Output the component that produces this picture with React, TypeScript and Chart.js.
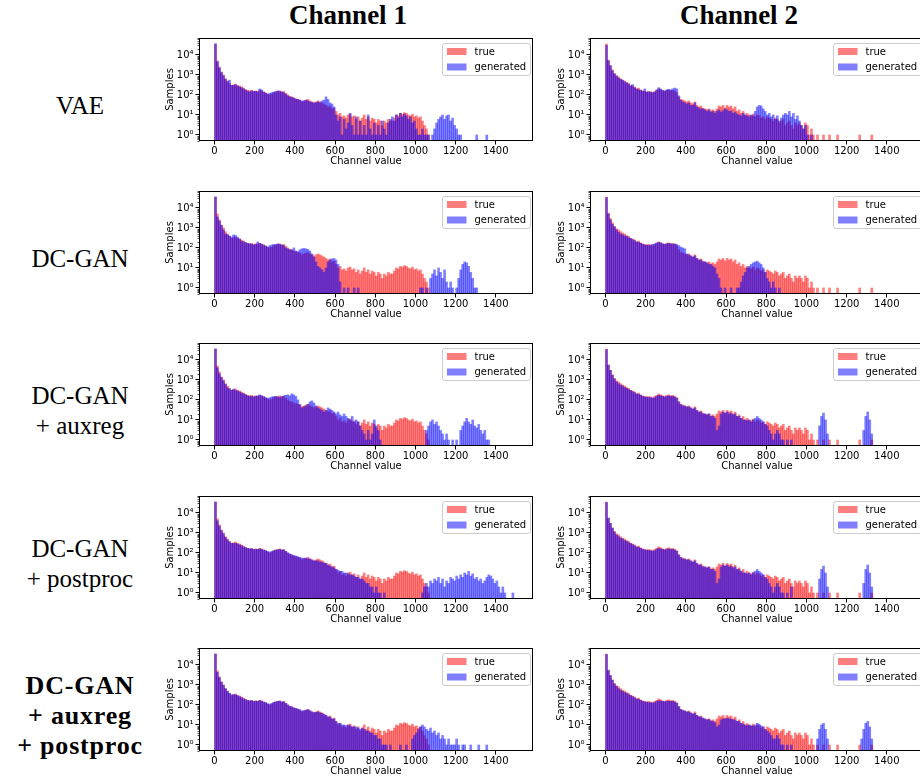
import React, { useEffect, useRef } from "react";
import { Chart, registerables } from "chart.js";

Chart.register(...registerables);

// ---------- data ----------
const BIN_WIDTH = 10;
const X_MIN = -77;
const X_MAX = 1585;
const Y_MIN = 0.5;
const Y_MAX = 70000;
const X_TICKS = [0, 200, 400, 600, 800, 1000, 1200, 1400];
const Y_TICKS = [1, 10, 100, 1000, 10000];
const Y_TICK_LABELS = ["10⁰", "10¹", "10²", "10³", "10⁴"];
const SERIES_LABELS = ["true", "generated"];
const SERIES_COLORS = ["rgba(255,0,0,0.5)", "rgba(0,0,255,0.5)"];
const COLUMN_TITLES = ["Channel 1", "Channel 2"];
const ROW_LABELS = [
  ["VAE"],
  ["DC-GAN"],
  ["DC-GAN", "+ auxreg"],
  ["DC-GAN", "+ postproc"],
  ["DC-GAN", "+ auxreg", "+ postproc"],
];
const X_TITLE = "Channel value";
const Y_TITLE = "Samples";

// counts per bin of width 10, starting at channel value 0
const TRUE_CH1 = [
  35000, 5000, 2500, 1400, 1000, 650, 500, 380, 300, 320,
  350, 300, 280, 250, 220, 190, 170, 160, 170, 150,
  160, 150, 170, 160, 140, 130, 110, 100, 110, 130,
  140, 150, 160, 140, 150, 120, 100, 85, 80, 70,
  65, 60, 55, 45, 50, 55, 60, 50, 45, 40,
  45, 50, 45, 40, 35, 30, 25, 28, 20, 22,
  15, 10, 12, 8, 9, 7, 10, 11, 8, 9,
  6, 8, 5, 7, 10, 6, 8, 5, 7, 6,
  4, 6, 5, 3, 5, 4, 6, 5, 5, 7,
  10, 9, 12, 11, 13, 12, 10, 9, 11, 8,
  9, 7, 8, 5, 3, 2, 1,
];

const TRUE_CH2 = [
  35000, 5500, 3000, 1800, 1200, 900, 800, 650, 550, 500,
  420, 380, 300, 280, 250, 200, 220, 180, 160, 150,
  140, 150, 140, 130, 150, 170, 200, 180, 160, 150,
  170, 180, 160, 170, 150, 130, 80, 60, 55, 50,
  45, 50, 40, 35, 45, 30, 25, 28, 22, 20,
  18, 20, 16, 18, 15, 20, 28, 25, 30, 22,
  30, 25, 28, 20, 25, 15, 18, 12, 15, 10,
  12, 10, 9, 11, 8, 10, 9, 7, 8, 6,
  8, 7, 6, 5, 7, 6, 4, 5, 6, 3,
  4, 5, 3, 2, 4, 3, 4, 3, 2, 4,
  3, 1, 2, 1, 0, 1, 0, 0, 1, 0,
  0, 1, 0, 0, 0, 1, 0, 0, 0, 0,
  0, 0, 0, 0, 0, 0, 1, 0, 0, 0,
  0, 0, 1,
];

const GEN_VAE_CH1 = [
  36000, 4500, 2200, 1300, 900, 600, 450, 550, 300, 300,
  320, 280, 250, 230, 200, 170, 150, 140, 160, 150,
  150, 140, 200, 180, 140, 120, 110, 120, 130, 140,
  150, 160, 150, 140, 130, 110, 90, 80, 75, 70,
  60, 60, 55, 50, 50, 55, 50, 45, 42, 40,
  40, 45, 40, 50, 55, 80, 60, 40, 35, 25,
  10, 5, 8, 1, 6, 2, 4, 12, 3, 1,
  8, 1, 5, 1, 3, 1, 10, 2, 1, 4,
  1, 3, 1, 5, 2, 1, 4, 6, 8, 5,
  10, 7, 12, 8, 11, 9, 6, 8, 4, 5,
  2, 1, 1, 2, 1, 1, 1, 0, 1, 2,
  4, 6, 8, 10, 6, 9, 10, 5, 7, 3,
  2, 1, 1, 0, 0, 0, 0, 0, 0, 0,
  1, 0, 0, 0, 0, 1,
];

const GEN_VAE_CH2 = [
  30000, 5000, 2800, 1600, 1100, 900, 700, 600, 550, 450,
  400, 350, 280, 330, 230, 200, 180, 170, 150, 200,
  140, 140, 140, 130, 140, 180, 230, 200, 170, 160,
  180, 190, 180, 200, 220, 200, 90, 55, 45, 40,
  35, 40, 30, 30, 40, 25, 22, 20, 20, 18,
  15, 18, 14, 15, 12, 15, 18, 14, 16, 20,
  18, 15, 16, 12, 14, 11, 10, 9, 12, 10,
  9, 8, 10, 9, 15, 25, 30, 28, 20, 15,
  10, 12, 8, 10, 6, 9, 5, 7, 10, 12,
  10, 15, 8, 12, 6, 9, 5, 3, 2, 3,
  1, 0, 1,
];

const GEN_DCGAN_CH1 = [
  35000, 3500, 2200, 1300, 800, 500, 450, 400, 350, 450,
  420, 350, 280, 220, 200, 180, 170, 160, 150, 140,
  150, 200, 170, 150, 140, 120, 110, 130, 140, 150,
  150, 160, 150, 140, 130, 100, 90, 80, 80, 100,
  70, 65, 80, 90, 95, 90, 85, 70, 50, 35,
  20, 12, 10, 8, 6, 10, 20, 25, 28, 30,
  25, 15, 2, 0, 1, 0, 1, 0, 0, 1,
  0, 1, 0, 0, 0, 0, 0, 0, 0, 0,
  0, 0, 0, 0, 0, 0, 0, 0, 0, 0,
  0, 0, 0, 0, 0, 0, 0, 0, 0, 0,
  0, 0, 1, 1, 0, 1, 0, 3, 5, 8,
  4, 10, 6, 3, 8, 2, 1, 2, 1, 0,
  1, 3, 8, 15, 20, 18, 12, 6, 3, 1,
  1,
];

const GEN_DCGAN_CH2 = [
  33000, 5000, 2500, 1500, 1100, 800, 600, 500, 450, 400,
  380, 330, 300, 260, 230, 200, 190, 170, 150, 140,
  140, 130, 140, 150, 160, 180, 190, 180, 160, 150,
  160, 170, 160, 150, 160, 150, 130, 110, 100, 90,
  50, 45, 40, 35, 40, 30, 25, 25, 20, 20,
  18, 15, 15, 12, 10, 5, 3, 1, 0, 1,
  0, 0, 1, 0, 0, 1, 1, 2, 4, 6,
  10, 12, 15, 18, 20, 22, 18, 15, 10, 6,
  3, 2, 1, 2, 1, 0, 1,
];

const GEN_AUX_CH1 = [
  35000, 4000, 2000, 1300, 900, 600, 400, 350, 300, 350,
  300, 280, 250, 220, 200, 180, 160, 150, 150, 140,
  150, 160, 180, 160, 150, 130, 120, 130, 140, 150,
  150, 140, 130, 150, 160, 170, 180, 160, 200, 180,
  150, 100, 60, 40, 45, 50, 60, 80, 90, 70,
  50, 40, 35, 30, 25, 30, 40, 35, 30, 25,
  20, 25, 18, 15, 20, 15, 12, 10, 15, 8,
  10, 8, 5, 3, 2, 1, 3, 1, 2, 10,
  5, 3, 1, 0, 0, 0, 0, 0, 0, 0,
  0, 0, 0, 0, 0, 0, 0, 0, 0, 0,
  0, 0, 0, 0, 0, 3, 5, 8, 10, 6,
  8, 5, 3, 2, 1, 2, 1, 0, 1, 0,
  1, 0, 3, 5, 8, 12, 8, 6, 10, 5,
  4, 6, 3, 2, 3, 1, 1,
];

const GEN_AUX_CH2 = [
  33000, 5500, 3000, 1700, 1100, 800, 650, 550, 500, 420,
  380, 330, 300, 260, 230, 200, 190, 170, 150, 140,
  140, 130, 130, 120, 130, 150, 170, 160, 150, 140,
  150, 160, 150, 150, 140, 120, 80, 60, 50, 50,
  45, 45, 40, 35, 40, 30, 25, 25, 20, 20,
  18, 20, 15, 15, 12, 3, 5, 20, 25, 22,
  25, 20, 22, 18, 20, 15, 15, 12, 10, 10,
  9, 10, 8, 10, 12, 15, 12, 10, 8, 6,
  5, 3, 2, 1, 2, 3, 2, 1, 1, 0,
  1, 0, 1, 0, 0, 0, 0, 0, 0, 0,
  0, 0, 0, 0, 0, 0, 5, 15, 22, 10,
  2, 0, 0, 0, 0, 0, 0, 0, 0, 0,
  0, 0, 0, 0, 0, 0, 0, 0, 3, 15,
  25, 10, 2,
];

const GEN_POST_CH2 = [
  33000, 5500, 3000, 1700, 1100, 800, 650, 550, 500, 420,
  380, 330, 300, 260, 230, 200, 190, 170, 150, 140,
  140, 130, 130, 120, 130, 150, 170, 160, 150, 140,
  150, 160, 150, 150, 140, 120, 80, 60, 50, 50,
  45, 45, 40, 35, 40, 30, 25, 25, 20, 20,
  18, 20, 15, 15, 12, 3, 5, 20, 25, 22,
  25, 20, 22, 18, 20, 15, 15, 12, 10, 10,
  9, 10, 8, 10, 12, 15, 12, 10, 8, 6,
  5, 3, 2, 1, 2, 3, 2, 1, 1, 0,
  1, 0, 2, 0, 0, 0, 0, 0, 0, 0,
  0, 0, 0, 0, 0, 0, 5, 15, 22, 10,
  2, 0, 0, 0, 0, 0, 0, 0, 0, 0,
  0, 0, 0, 0, 0, 0, 0, 0, 3, 15,
  25, 10, 2,
];

const GEN_POST_CH1 = [
  35000, 4000, 2200, 1300, 900, 600, 450, 350, 300, 300,
  300, 280, 250, 230, 200, 180, 170, 160, 160, 150,
  150, 150, 160, 150, 140, 130, 120, 110, 120, 130,
  140, 140, 150, 140, 140, 120, 100, 90, 80, 75,
  70, 65, 60, 55, 55, 55, 50, 50, 45, 40,
  40, 40, 35, 35, 30, 30, 25, 22, 20, 18,
  15, 14, 12, 12, 10, 10, 9, 8, 8, 7,
  6, 6, 5, 5, 4, 3, 3, 2, 2, 1,
  2, 1, 1, 0, 1, 0, 0, 0, 0, 0,
  0, 0, 0, 0, 0, 0, 0, 0, 0, 0,
  0, 0, 0, 1, 2, 3, 2, 4, 3, 5,
  4, 6, 3, 5, 2, 4, 3, 6, 5, 4,
  7, 5, 8, 6, 10, 8, 12, 7, 9, 5,
  6, 4, 5, 3, 4, 6, 8, 7, 5, 3,
  4, 2, 1, 2, 1, 0, 0, 0, 1,
];

const GEN_BOTH_CH1 = [
  35000, 4200, 2300, 1400, 950, 650, 480, 380, 320, 330,
  320, 290, 260, 230, 200, 180, 170, 160, 165, 150,
  155, 150, 165, 155, 140, 130, 115, 110, 120, 135,
  145, 150, 155, 140, 145, 120, 100, 85, 80, 72,
  68, 62, 58, 50, 52, 55, 58, 52, 45, 42,
  42, 45, 40, 38, 33, 30, 25, 25, 20, 20,
  15, 12, 12, 10, 10, 9, 10, 9, 8, 8,
  8, 7, 6, 7, 6, 5, 5, 4, 4, 3,
  3, 2, 2, 1, 1, 1, 0, 1, 0, 0,
  0, 0, 1, 0, 0, 1, 0, 0, 2, 3,
  4, 6, 8, 10, 8, 6, 5, 7, 4, 5,
  3, 4, 2, 3, 2, 1, 2, 1, 1, 1,
  2, 1, 0, 1, 1, 0, 0, 1, 0, 0,
  0, 1, 0, 0, 0, 1,
];

const GEN_BOTH_CH2 = [
  33000, 5200, 2900, 1700, 1100, 850, 650, 550, 480, 420,
  380, 330, 300, 260, 230, 200, 190, 170, 150, 140,
  140, 130, 130, 125, 130, 150, 165, 160, 150, 145,
  150, 155, 150, 150, 140, 120, 85, 60, 52, 50,
  45, 45, 40, 35, 38, 30, 26, 25, 22, 20,
  18, 19, 16, 15, 13, 8, 10, 18, 20, 20,
  22, 20, 20, 18, 18, 15, 15, 12, 11, 10,
  9, 10, 9, 9, 10, 12, 11, 9, 8, 6,
  5, 4, 3, 2, 2, 3, 2, 1, 1, 0,
  1, 0, 1, 0, 0, 0, 0, 0, 0, 0,
  0, 0, 0, 0, 0, 2, 6, 10, 12, 6,
  2, 0, 0, 0, 0, 0, 0, 0, 0, 0,
  0, 0, 0, 0, 0, 0, 0, 2, 6, 12,
  15, 8, 2,
];

const GEN_ROWS = [
  [GEN_VAE_CH1, GEN_VAE_CH2],
  [GEN_DCGAN_CH1, GEN_DCGAN_CH2],
  [GEN_AUX_CH1, GEN_AUX_CH2],
  [GEN_POST_CH1, GEN_POST_CH2],
  [GEN_BOTH_CH1, GEN_BOTH_CH2],
];
const TRUE_COLS = [TRUE_CH1, TRUE_CH2];

// ---------- layout ----------
const ROW_TOPS = [38, 191, 343, 496, 648];
const COL_CANVAS_LEFT = [164, 555];
const Y_AXIS_W = 35;
const PLOT_W = 334;
const PLOT_H = 103;
const PAD_TOP = 4;
const X_AXIS_H = 26;
const CANVAS_W = Y_AXIS_W + PLOT_W + 1;
const CANVAS_H = PAD_TOP + PLOT_H + X_AXIS_H;
const COL_TITLE_X = [348, 739];
const SERIF = "'Liberation Serif', 'DejaVu Serif', serif";

const TICK_FONT = { family: "DejaVu Sans", size: 10 };

function toPoints(arr: number[]) {
  return arr.map((c, i) => ({ x: i * BIN_WIDTH + BIN_WIDTH / 2, y: c > 0 ? c : null }));
}

const framePlugin = {
  id: "frameLegend",
  afterDatasetsDraw(chart: any) {
    const { ctx, chartArea } = chart;
    const yScale = chart.scales.y;
    ctx.save();
    ctx.strokeStyle = "#000";
    ctx.lineWidth = 1;
    const l = Math.round(chartArea.left) + 0.5;
    const t = Math.round(chartArea.top) + 0.5;
    const r = Math.round(chartArea.right) - 0.5;
    const b = Math.round(chartArea.bottom) - 0.5;
    ctx.strokeRect(l, t, r - l, b - t);
    // minor log ticks
    ctx.lineWidth = 0.7;
    ctx.beginPath();
    for (let k = -1; k <= 4; k++) {
      for (let m = 2; m <= 9; m++) {
        const v = m * Math.pow(10, k);
        if (v < Y_MIN || v > Y_MAX) continue;
        const py = Math.round(yScale.getPixelForValue(v)) + 0.5;
        ctx.moveTo(l - 2, py);
        ctx.lineTo(l, py);
      }
    }
    ctx.stroke();
    ctx.restore();
  },
  afterDraw(chart: any) {
    const { ctx, chartArea } = chart;
    const w = 88;
    const h = 32;
    const x = Math.round(chartArea.right - 3.5 - w) + 0.5;
    const y = Math.round(chartArea.top + 5) + 0.5;
    ctx.save();
    ctx.beginPath();
    const r = 2.5;
    ctx.moveTo(x + r, y);
    ctx.lineTo(x + w - r, y);
    ctx.quadraticCurveTo(x + w, y, x + w, y + r);
    ctx.lineTo(x + w, y + h - r);
    ctx.quadraticCurveTo(x + w, y + h, x + w - r, y + h);
    ctx.lineTo(x + r, y + h);
    ctx.quadraticCurveTo(x, y + h, x, y + h - r);
    ctx.lineTo(x, y + r);
    ctx.quadraticCurveTo(x, y, x + r, y);
    ctx.closePath();
    ctx.fillStyle = "rgba(255,255,255,0.8)";
    ctx.fill();
    ctx.strokeStyle = "#cccccc";
    ctx.lineWidth = 1;
    ctx.stroke();
    ctx.font = "10px 'DejaVu Sans'";
    ctx.textBaseline = "middle";
    chart.data.datasets.forEach((ds: any, i: number) => {
      const cy = y + 8 + i * 15.5;
      ctx.fillStyle = ds.backgroundColor;
      ctx.fillRect(x + 4.5, cy - 3.5, 19.5, 7);
      ctx.fillStyle = "#000";
      ctx.fillText(ds.label, x + 32, cy + 0.5);
    });
    ctx.restore();
  },
};

function Panel({ left, top, trueData, genData }: { left: number; top: number; trueData: number[]; genData: number[] }) {
  const ref = useRef<HTMLCanvasElement>(null);
  useEffect(() => {
    const chart = new Chart(ref.current as HTMLCanvasElement, {
      type: "bar",
      data: {
        datasets: [
          {
            label: SERIES_LABELS[0],
            data: toPoints(trueData) as any,
            backgroundColor: SERIES_COLORS[0],
            borderWidth: 0,
            grouped: false,
            barPercentage: 1,
            categoryPercentage: 1,
            order: 1,
          } as any,
          {
            label: SERIES_LABELS[1],
            data: toPoints(genData) as any,
            backgroundColor: SERIES_COLORS[1],
            borderWidth: 0,
            grouped: false,
            barPercentage: 1,
            categoryPercentage: 1,
            order: 0,
          } as any,
        ],
      },
      options: {
        animation: false,
        responsive: false,
        devicePixelRatio: 1,
        events: [],
        layout: { padding: { top: PAD_TOP, left: 0, right: 1, bottom: 0 } },
        plugins: { legend: { display: false }, tooltip: { enabled: false }, title: { display: false } },
        scales: {
          x: {
            type: "linear",
            min: X_MIN,
            max: X_MAX,
            offset: false,
            afterBuildTicks: (s: any) => {
              s.ticks = X_TICKS.map((v) => ({ value: v }));
            },
            afterFit: (s: any) => {
              s.height = X_AXIS_H;
              s.paddingLeft = 0;
              s.paddingRight = 0;
              s.paddingTop = 0;
              s.paddingBottom = 0;
            },
            grid: { display: true, drawOnChartArea: false, drawTicks: true, tickLength: 3.5, color: "#000", offset: false },
            border: { display: false },
            ticks: {
              color: "#000",
              font: TICK_FONT,
              padding: 1,
              maxRotation: 0,
              autoSkip: false,
              callback: (v: any) => String(v),
            },
            title: { display: true, text: X_TITLE, color: "#000", font: TICK_FONT, padding: 0 },
          },
          y: {
            type: "logarithmic",
            min: Y_MIN,
            max: Y_MAX,
            afterBuildTicks: (s: any) => {
              s.ticks = Y_TICKS.map((v) => ({ value: v }));
            },
            afterFit: (s: any) => {
              s.width = Y_AXIS_W;
              s.paddingTop = 0;
              s.paddingBottom = 0;
              s.paddingLeft = 0;
              s.paddingRight = 0;
            },
            grid: { display: true, drawOnChartArea: false, drawTicks: true, tickLength: 3.5, color: "#000" },
            border: { display: false },
            ticks: {
              color: "#000",
              font: TICK_FONT,
              padding: 2,
              autoSkip: false,
              callback: (v: any) => {
                const idx = Y_TICKS.indexOf(Number(v));
                return idx >= 0 ? Y_TICK_LABELS[idx] : "";
              },
            },
            title: { display: true, text: Y_TITLE, color: "#000", font: TICK_FONT, padding: 0 },
          },
        },
      } as any,
      plugins: [framePlugin as any],
    });
    return () => chart.destroy();
  }, []);
  return (
    <canvas
      ref={ref}
      width={CANVAS_W}
      height={CANVAS_H}
      style={{ position: "absolute", left, top: top - PAD_TOP, width: CANVAS_W, height: CANVAS_H }}
    />
  );
}

export default function App() {
  return (
    <div
      style={{
        position: "fixed",
        left: 0,
        top: 0,
        width: 920,
        height: 783,
        overflow: "hidden",
        background: "#fff",
      }}
    >
      {COLUMN_TITLES.map((t, c) => (
        <div
          key={t}
          style={{
            position: "absolute",
            left: COL_TITLE_X[c] - 100,
            width: 200,
            top: 0,
            height: 30,
            lineHeight: "30px",
            textAlign: "center",
            fontFamily: SERIF,
            fontWeight: "bold",
            fontSize: 27,
            color: "#000",
          }}
        >
          {t}
        </div>
      ))}
      {ROW_LABELS.map((lines, r) => (
        <div
          key={r}
          style={{
            position: "absolute",
            left: 0,
            width: 160,
            top: ROW_TOPS[r],
            height: 135,
            display: "flex",
            flexDirection: "column",
            justifyContent: "center",
            alignItems: "center",
            fontFamily: SERIF,
            fontSize: r === 4 ? 26 : 25,
            fontWeight: r === 4 ? "bold" : "normal",
            letterSpacing: r === 4 ? 0.8 : 0,
            lineHeight: "30px",
            color: "#000",
          }}
        >
          {lines.map((ln) => (
            <div key={ln} style={{ whiteSpace: "pre" }}>
              {ln}
            </div>
          ))}
        </div>
      ))}
      {GEN_ROWS.map((gens, r) =>
        gens.map((g, c) => (
          <Panel key={`${r}-${c}`} left={COL_CANVAS_LEFT[c]} top={ROW_TOPS[r]} trueData={TRUE_COLS[c]} genData={g} />
        ))
      )}
    </div>
  );
}
